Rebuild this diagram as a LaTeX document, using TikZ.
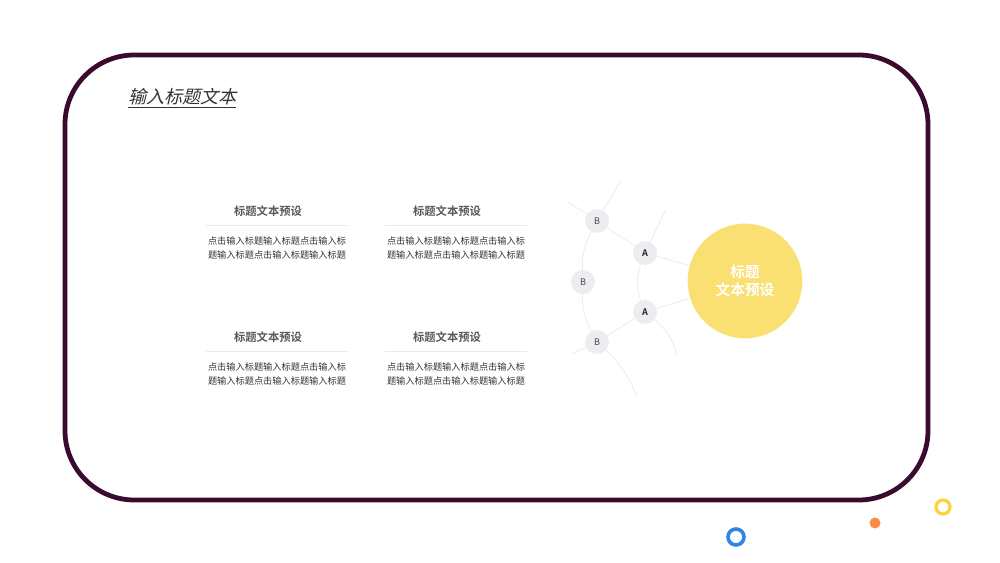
\documentclass[tikz,border=0pt]{standalone}
\usepackage{fontspec}
\setmainfont{Noto Sans CJK SC}[BoldFont={Noto Sans CJK SC Bold},ItalicFont={Noto Sans CJK SC},ItalicFeatures={FakeSlant=0.25}]
\usepackage{tikz}
\definecolor{framecol}{HTML}{3A0B2E}
\definecolor{sungold}{HTML}{FADF73}
\definecolor{bubble}{HTML}{ECECF1}
\definecolor{wire}{HTML}{EBEBEE}
\definecolor{ringblue}{HTML}{2D86E8}
\definecolor{dotorange}{HTML}{FA8C45}
\definecolor{ringyellow}{HTML}{FAD43A}
\tikzset{ hub/.style={circle,fill=bubble,minimum size=18pt,inner sep=0pt,font=\fontsize{6.8}{7}\selectfont,text=black!70},
  wirestyle/.style={draw=wire,line width=0.6pt},
  headline/.style={font=\bfseries\fontsize{8.5}{10}\selectfont,text=black!65},
  blurb/.style={font=\fontsize{6.9}{9.8}\selectfont,text=black!80,align=center}}

\begin{document}
\begin{tikzpicture}[x=0.75pt,y=-0.75pt]
  \useasboundingbox (0,0) rectangle (1000,563);
  \draw[framecol,line width=3.6pt,rounded corners=52pt] (65,55) rectangle (928,500);
  \node[font=\itshape\fontsize{13.5}{14}\selectfont,text=black!80,inner sep=0pt] (title) at (182,98) {\underline{输入标题文本}};
%text blocks
  \foreach \x/\y/\name in {268/211/p, 447/211/q, 268/337/r, 447/337/s}{
    \node[headline] (\name h) at (\x,\y) {标题文本预设};
    \draw[wire,line width=0.5pt] (\x-62,\y+14) -- (\x+80,\y+14);
    \node[blurb] (\name t) at (\x+9,\y+37) {点击输入标题输入标题点击输入标\\题输入标题点击输入标题输入标题};
  }
%network
  \node[circle,fill=sungold,minimum size=86pt,inner sep=0pt,text=white,align=center,font=\bfseries\fontsize{11}{13}\selectfont] (core) at (745,281) {标题\\文本预设};
  \foreach \pos/\name/\lab in {{(597,221)/b1/B}, {(645,253)/a1/\textbf{\color{black!85}A}}, {(583,282)/b2/B}, {(645,312)/a2/\textbf{\color{black!85}A}}, {(597,342)/b3/B}}
        \node[hub] (\name) at \pos {\lab};
  \foreach \name/\x/\y in {u1/568/202, u2/620/182, u3/665/211, u4/677/354, u5/572/354, u6/637/397}
        \coordinate (\name) at (\x,\y);
  \path[wirestyle]
	(b1) edge (a1)
	(a1) edge (core)
	(a2) edge (core)
	(a2) edge (b3)
	(b1) edge (u1)
	(b1) edge (u2)
	(a1) edge (u3)
	(b3) edge (u5)
	(a1) edge[bend right=20] (a2)
	(b1) edge[bend right=15] (b2)
	(b2) edge[bend right=15] (b3)
	(a2) edge[bend left=15] (u4)
	(b3) edge[bend left=12] (u6);
%decor
  \draw[draw=ringblue,line width=2.7pt] (736,537) circle[radius=8];
  \fill[dotorange] (875,523) circle[radius=5.5];
  \draw[draw=ringyellow,line width=2.4pt] (943,507) circle[radius=7];
\end{tikzpicture}
\end{document}
